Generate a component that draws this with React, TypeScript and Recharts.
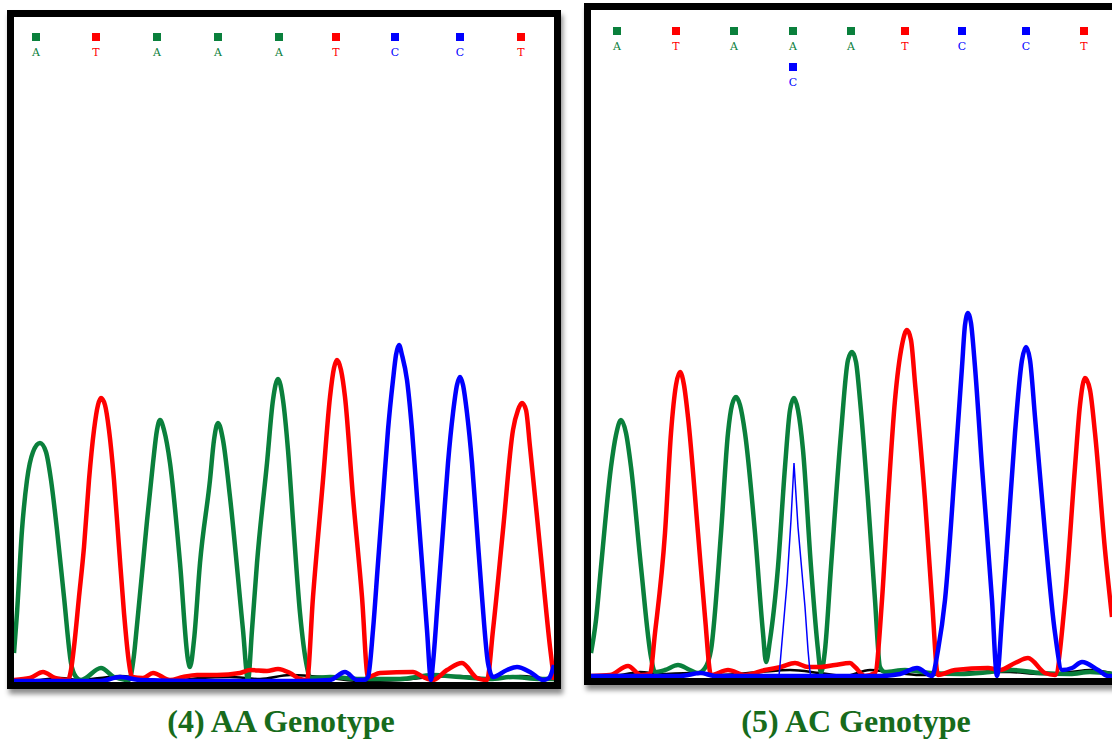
import { ComposedChart, Line, Scatter, XAxis, YAxis } from "recharts";

// trace colours, ABI style
const COLORS: Record<string, string> = {
  A: "#0a803c",
  T: "#ff0000",
  C: "#0000ff",
  G: "#000000",
};

// (4) AA genotype — [scan, signal]
const AA_A: [number, number][] = [
  [0, 140], [3, 340], [8, 755], [13, 1005], [19, 1145], [26, 1190], [32, 1145], [37, 1005], [43, 755], [50, 420],
  [57, 90], [62, 20], [67, 5], [87, 65], [100, 20], [115, 5], [120, 130], [123, 280], [129, 590], [133, 800],
  [139, 1090], [143, 1255], [146, 1305], [150, 1255], [156, 1090], [166, 590], [174, 105], [176, 70], [180, 205],
  [186, 590], [196, 1005], [200, 1205], [204, 1290], [209, 1205], [216, 920], [229, 255], [234, 5], [238, 255],
  [243, 590], [253, 1090], [259, 1405], [264, 1510], [269, 1405], [274, 1155], [279, 805], [286, 340], [293, 70],
  [296, 15], [316, 20], [346, 10], [386, 10], [419, 30], [446, 20], [476, 10], [499, 20], [526, 10], [540, 10],
];
const AA_T: [number, number][] = [
  [0, 5], [16, 15], [29, 45], [41, 15], [54, 5], [57, 55], [60, 170], [65, 420], [70, 670], [75, 1005], [80, 1255],
  [84, 1380], [87, 1415], [91, 1380], [95, 1255], [100, 1005], [105, 670], [110, 340], [115, 90], [118, 20],
  [129, 15], [139, 40], [156, 5], [169, 20], [183, 30], [203, 30], [226, 40], [236, 55], [253, 50], [264, 60],
  [276, 40], [286, 10], [293, 5], [299, 420], [309, 1005], [316, 1420], [320, 1565], [323, 1605], [327, 1555],
  [331, 1420], [339, 920], [348, 420], [354, 20], [366, 40], [399, 45], [409, 20], [419, 5], [433, 55], [448, 90],
  [463, 15], [473, 5], [479, 255], [489, 755], [499, 1255], [504, 1355], [508, 1390], [512, 1355], [516, 1170],
  [526, 670], [536, 170], [540, 5],
];
const AA_C: [number, number][] = [
  [0, 0], [46, 0], [86, 0], [106, 20], [126, 5], [186, 0], [286, 0], [316, 5], [331, 45], [343, 5], [350, 5],
  [354, 20], [359, 255], [364, 590], [369, 920], [374, 1255], [379, 1505], [382, 1630], [385, 1680], [388, 1630],
  [393, 1505], [398, 1255], [403, 920], [408, 590], [413, 255], [417, 5], [419, 90], [424, 420], [429, 755],
  [434, 1090], [439, 1340], [443, 1480], [446, 1520], [449, 1480], [453, 1340], [458, 1090], [463, 755], [468, 420],
  [474, 90], [479, 20], [493, 55], [503, 70], [516, 45], [529, 5], [535, 15], [540, 80],
];
const AA_G: [number, number][] = [
  [0, 0], [26, 5], [46, 15], [66, 5], [86, 15], [106, 25], [126, 15], [156, 0], [186, 15], [216, 20], [246, 10],
  [276, 30], [296, 25], [316, 15], [346, 0], [386, 5], [416, 20], [446, 25], [476, 10], [506, 25], [526, 15], [540, 5],
];
const AA_CALL_POS = [22, 82, 143, 204, 265, 322, 381, 446, 507];
const AA_CALLS = "ATAAATCCT";

// (5) AC genotype
const AC_A: [number, number][] = [
  [0, 115], [5, 280], [10, 545], [20, 1045], [25, 1205], [30, 1280], [35, 1215], [40, 1045], [50, 545], [60, 95],
  [64, 20], [74, 30], [87, 55], [99, 30], [107, 15], [114, 40], [120, 130], [130, 715], [137, 1215], [141, 1355],
  [145, 1395], [149, 1355], [154, 1215], [164, 715], [172, 215], [175, 70], [179, 180], [187, 545], [194, 1045],
  [199, 1330], [203, 1390], [207, 1330], [212, 1130], [220, 545], [227, 130], [230, 15], [234, 130], [240, 545],
  [250, 1215], [257, 1580], [261, 1620], [265, 1570], [269, 1380], [277, 880], [284, 380], [289, 45], [294, 20],
  [314, 30], [339, 15], [369, 10], [399, 20], [421, 30], [449, 15], [479, 10], [499, 20], [521, 10],
];
const AC_T: [number, number][] = [
  [0, 0], [19, 5], [37, 50], [50, 5], [59, 10], [64, 215], [74, 715], [80, 1215], [85, 1455], [89, 1520],
  [93, 1455], [97, 1295], [107, 715], [114, 295], [120, 5], [137, 30], [154, 5], [174, 30], [190, 45], [204, 65],
  [217, 45], [230, 45], [244, 55], [259, 65], [264, 45], [274, 0], [284, 15], [291, 380], [297, 880], [304, 1380],
  [311, 1655], [316, 1730], [320, 1680], [324, 1465], [334, 880], [341, 380], [347, 5], [364, 30], [397, 40],
  [409, 30], [424, 65], [437, 90], [454, 15], [464, 5], [474, 380], [484, 1045], [489, 1355], [494, 1490],
  [499, 1430], [504, 1215], [514, 630], [521, 295],
];
const AC_C: [number, number][] = [
  [0, 0], [89, 0], [110, 15], [124, 0], [187, 0], [259, 0], [289, 0], [309, 10], [326, 40], [341, 0], [347, 130],
  [354, 380], [364, 1045], [371, 1545], [374, 1755], [377, 1815], [380, 1765], [384, 1545], [391, 1045], [401, 380],
  [406, 0], [411, 295], [417, 715], [424, 1215], [431, 1580], [435, 1645], [439, 1580], [444, 1295], [454, 715],
  [464, 215], [471, 30], [481, 40], [491, 70], [507, 30], [517, 0], [521, 0],
];
// minor C peak under the 4th A (heterozygous call)
const AC_C2: [number, number][] = [
  [188, 0], [189, 55], [196, 465], [200, 780], [203, 1065], [207, 745], [214, 345], [217, 130], [219, 20], [220, 0],
];
const AC_G: [number, number][] = [
  [0, 0], [29, 5], [49, 20], [69, 10], [99, 15], [129, 5], [169, 20], [199, 30], [229, 15], [254, 0], [279, 30],
  [299, 20], [329, 5], [359, 10], [389, 20], [419, 20], [449, 10], [479, 20], [499, 30], [521, 15],
];
const AC_CALL_POS = [26, 85, 143, 202, 260, 314, 371, 435, 493];
const AC_CALLS = "ATAAATCCT";
const AC_SECOND = [{ pos: 202, base: "C" }];

const toPts = (arr: [number, number][]) => arr.map(([x, y]) => ({ x, y }));

function CallMark(props: any) {
  const { cx, cy, payload } = props;
  const c = COLORS[payload.base];
  return (
    <g>
      <rect x={cx - 4} y={cy - 4} width={8} height={8} fill={c} />
      <text x={cx} y={cy + 19} textAnchor="middle" fill={c} fontFamily="'DejaVu Serif', serif" fontSize={11}>
        {payload.base}
      </text>
    </g>
  );
}

type Trace = { key: string; data: [number, number][]; color: string; width: number; linear?: boolean };

function Chromatogram({
  height,
  yDomain,
  traces,
  calls,
}: {
  height: number;
  yDomain: [number, number];
  traces: Trace[];
  calls: { x: number; y: number; base: string }[];
}) {
  return (
    <ComposedChart width={540} height={height} margin={{ top: 0, right: 0, bottom: 0, left: 0 }}>
      <XAxis type="number" dataKey="x" domain={[0, 540]} hide allowDataOverflow />
      <YAxis type="number" domain={yDomain} hide allowDataOverflow />
      {traces.map((t) => (
        <Line
          key={t.key}
          data={toPts(t.data)}
          dataKey="y"
          type={t.linear ? "linear" : "monotone"}
          stroke={t.color}
          strokeWidth={t.width}
          dot={false}
          isAnimationActive={false}
        />
      ))}
      <Scatter data={calls} dataKey="y" shape={CallMark} isAnimationActive={false} />
    </ComposedChart>
  );
}

const captionStyle: React.CSSProperties = {
  position: "absolute",
  top: 705,
  width: 400,
  textAlign: "center",
  fontFamily: "'Liberation Serif', 'Times New Roman', serif",
  fontWeight: "bold",
  fontSize: 32,
  lineHeight: "32px",
  color: "#176b1c",
};

const boxStyle: React.CSSProperties = {
  position: "absolute",
  border: "7px solid #000",
  background: "#fff",
  width: 540,
  boxShadow: "2px 5px 5px rgba(0,0,0,0.45)",
};

export default function App() {
  const aaCalls = AA_CALL_POS.map((x, i) => ({ x, y: 3220, base: AA_CALLS[i] }));
  const acCalls = [
    ...AC_CALL_POS.map((x, i) => ({ x, y: 3225, base: AC_CALLS[i] })),
    ...AC_SECOND.map((s) => ({ x: s.pos, y: 3045, base: s.base })),
  ];
  return (
    <div style={{ position: "absolute", left: 0, top: 0, width: 1112, height: 744, overflow: "hidden", background: "#fff" }}>
      <div style={{ ...boxStyle, left: 7, top: 10, height: 665 }}>
        <Chromatogram
          height={665}
          yDomain={[-5, 3320]}
          calls={aaCalls}
          traces={[
            { key: "G", data: AA_G, color: COLORS.G, width: 2.5 },
            { key: "A", data: AA_A, color: COLORS.A, width: 4.5 },
            { key: "T", data: AA_T, color: COLORS.T, width: 4.5 },
            { key: "C", data: AA_C, color: COLORS.C, width: 4.5 },
          ]}
        />
      </div>
      <div style={{ ...boxStyle, left: 584, top: 3, height: 668 }}>
        <Chromatogram
          height={668}
          yDomain={[-10, 3330]}
          calls={acCalls}
          traces={[
            { key: "G", data: AC_G, color: COLORS.G, width: 2.5 },
            { key: "A", data: AC_A, color: COLORS.A, width: 4.5 },
            { key: "T", data: AC_T, color: COLORS.T, width: 4.5 },
            { key: "C", data: AC_C, color: COLORS.C, width: 4.5 },
            { key: "C2", data: AC_C2, color: COLORS.C, width: 1.5, linear: true },
          ]}
        />
      </div>
      <div style={{ ...captionStyle, left: 81 }}>(4) AA Genotype</div>
      <div style={{ ...captionStyle, left: 656 }}>(5) AC Genotype</div>
    </div>
  );
}
